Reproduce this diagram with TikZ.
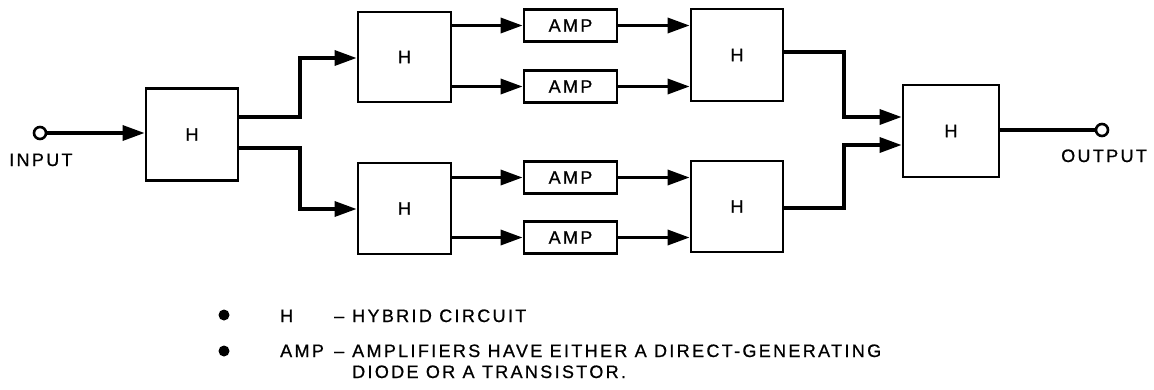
\documentclass[tikz,border=0pt]{standalone}
\usepackage{fontspec}
\setmainfont{Liberation Sans}[LetterSpace=13, FakeBold=0.8]
\usetikzlibrary{arrows.meta}
\begin{document}
\begin{tikzpicture}[x=1pt,y=-1pt,
  txt/.style={font=\fontsize{18}{21}\selectfont},
  hbox/.style={draw, line width=2.8pt, minimum width=92pt, minimum height=92pt, inner sep=0pt, txt},
  ampbox/.style={draw, line width=2.8pt, minimum width=93pt, minimum height=32pt, inner sep=0pt, txt},
  conn/.style={line width=3.4pt, line join=miter},
  arr/.style={conn, -{Triangle[length=22pt,width=15pt]}},
  term/.style={circle, draw, line width=2.6pt, fill=white, minimum size=12pt, inner sep=0pt},
  lbl/.style={anchor=base west, inner sep=0pt, txt},
  dot/.style={circle, fill=black, minimum size=11pt, inner sep=0pt}]
\useasboundingbox (0,0) rectangle (1154,389);

% boxes
\node[hbox] (H1) at (192,134.5) {H};
\node[hbox, minimum width=93pt, minimum height=90pt] (H2a) at (404.5,57) {H};
\node[hbox, minimum width=93pt, minimum height=91pt] (H2b) at (404.5,208.5) {H};
\node[ampbox] (A1) at (570.5,25.5) {AMP};
\node[ampbox] (A2) at (570.5,86.5) {AMP};
\node[ampbox] (A3) at (570.5,177.5) {AMP};
\node[ampbox] (A4) at (570.5,237.5) {AMP};
\node[hbox] (H3a) at (737,55) {H};
\node[hbox, minimum height=91pt] (H3b) at (737,206.5) {H};
\node[hbox, minimum width=96pt] (H4) at (951,131) {H};

% terminals
\coordinate (inpt) at (40,133);
\coordinate (outpt) at (1102,130);
\draw[arr] (inpt) -- (H1.west |- inpt);
\draw[conn] (H4.east |- outpt) -- (outpt);
\node[term] (tin) at (inpt) {};
\node[term] (tout) at (outpt) {};
\node[lbl] (INPUT) at (9,166) {INPUT};
\node[lbl] (OUTPUT) at (1061,162) {OUTPUT};

% H1 to H2
\draw[arr] (H1.east |- 0,117) -- (300,117) -- (300,58) -- (H2a.west |- 0,58);
\draw[arr] (H1.east |- 0,148) -- (300,148) -- (300,209) -- (H2b.west |- 0,209);

% H2 to AMPs
\draw[arr] (H2a.east |- A1) -- (A1.west);
\draw[arr] (H2a.east |- A2) -- (A2.west);
\draw[arr] (H2b.east |- A3) -- (A3.west);
\draw[arr] (H2b.east |- A4) -- (A4.west);

% AMPs to H3
\draw[arr] (A1.east) -- (H3a.west |- A1);
\draw[arr] (A2.east) -- (H3a.west |- A2);
\draw[arr] (A3.east) -- (H3b.west |- A3);
\draw[arr] (A4.east) -- (H3b.west |- A4);

% H3 to H4
\draw[arr] (H3a.east |- 0,52) -- (844,52) -- (844,117) -- (H4.west |- 0,117);
\draw[arr] (H3b.east |- 0,208) -- (844,208) -- (844,145) -- (H4.west |- 0,145);

% legend
\node[dot] (b1) at (224,315) {};
\node[dot] (b2) at (224,351) {};
\node[lbl] (l2a) at (280,357) {AMP};
\node[lbl] (l2d) at (334,357) {–};
\node[lbl] (l2b) at (352,357) {AMPLIFIERS HAVE EITHER A DIRECT-GENERATING};
\node[lbl] (l1a) at (l2a.base west |- 0,322) {H};
\node[lbl] (l1d) at (l2d.base west |- 0,322) {–};
\node[lbl] (l1b) at (l2b.base west |- 0,322) {HYBRID CIRCUIT};
\node[lbl] (l3) at (l2b.base west |- 0,378) {DIODE OR A TRANSISTOR.};
\end{tikzpicture}
\end{document}
